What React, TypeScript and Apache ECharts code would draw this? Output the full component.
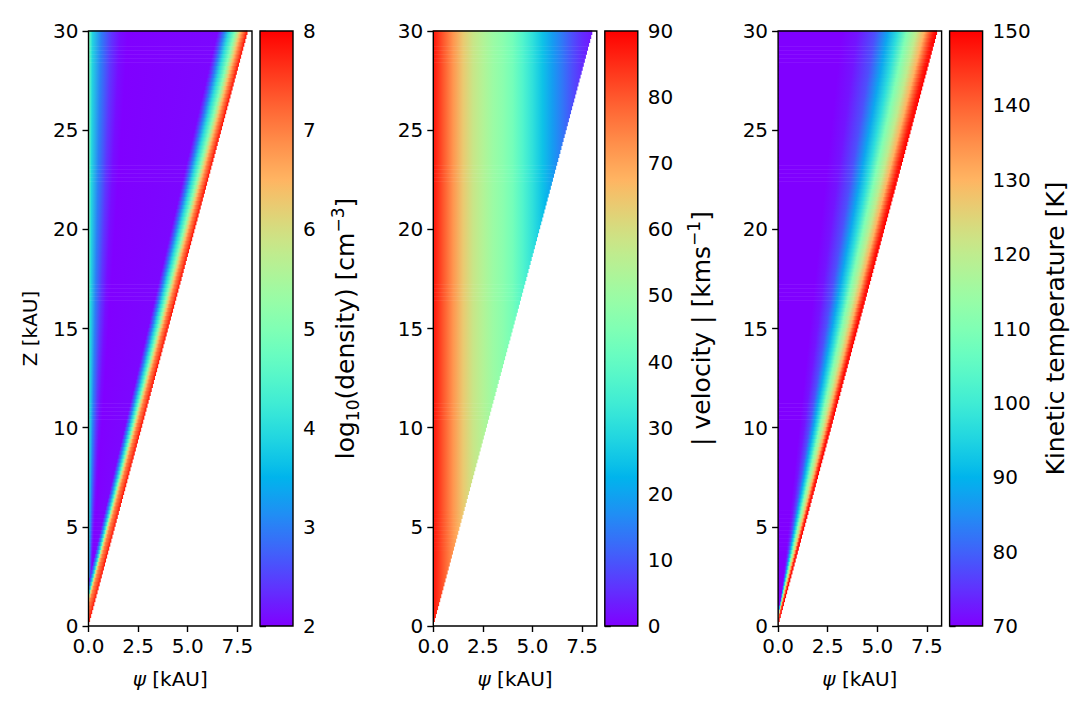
import React, { useEffect, useRef } from "react";
import * as echarts from "echarts";

const FONT = "DejaVu Sans, sans-serif";

// Axis ranges (kAU)
const zRange = [0, 30];
const psiRange = [0, 8.24];
const psiTicks = [0, 2.5, 5, 7.5];
// Outer wall of the cavity: psi reached at Z = 30 kAU, apex at the origin
const wallPsiAtTop = 8.04;

// log10(density) [cm^-3]: contour levels, with their psi (kAU) at Z = 0 and Z = 30
const densityRange = [2, 8];
const densityLevels = [5.2, 4.5, 3.9, 3.0, 2.4, 2.1, 2.0, 2.05, 2.4, 3.0, 4.0, 5.0, 6.0, 6.5, 7.0, 7.4, 7.8];
const densityPsiZ0 = [0, 0, 0, 0, 0, 0, 0, -0.52, -0.5, -0.44, -0.38, -0.36, -0.34, -0.3, -0.25, -0.12, -0.02];
const densityPsiZ30 = [0, 0.08, 0.2, 0.64, 1.16, 1.6, 2.0, 6.52, 6.68, 6.86, 7.1, 7.4, 7.58, 7.68, 7.79, 7.9, 8.0];

// |velocity| [km s^-1]: depends on psi only
const velocityRange = [0, 90];
const velocityLevels = [88, 80, 72, 64, 58, 54, 50, 47, 43, 37, 31, 25, 19, 14, 9, 5, 2];
const velocityPsi = [0, 0.5, 1.0, 1.5, 2.0, 2.5, 3.0, 3.5, 4.0, 4.5, 5.0, 5.5, 6.0, 6.5, 7.0, 7.5, 8.1];

// Kinetic temperature [K]: contour levels, with their psi (kAU) at Z = 0 and Z = 30
const temperatureRange = [70, 150];
const temperatureLevels = [70, 72, 78, 88, 97, 110, 120, 130, 140, 147, 150];
const temperaturePsiZ0 = [0, -0.04, -0.08, -0.1, -0.1, -0.1, -0.1, -0.09, -0.07, -0.05, -0.02];
const temperaturePsiZ30 = [3.2, 4.0, 4.9, 5.55, 6.03, 6.5, 6.98, 7.38, 7.62, 7.84, 8.02];

// Layout (px)
const PANEL_LEFT = [88.5, 433.3, 778.1];
const PANEL_WIDTH = 163.5;
const CB_OFFSET = 171.5;
const CB_WIDTH = 33;
const TOP = 31;
const HEIGHT = 595;
const ROWS = 150;
const LINE_W = 1.4;
const TICK_FONT = 20;
const LABEL_FONT = 25;

const clamp01 = (t: number) => Math.max(0, Math.min(1, t));

// matplotlib "rainbow" colormap
function rainbow(t: number): string {
  const x = clamp01(t);
  const r = clamp01(Math.abs(2 * x - 0.5));
  const g = clamp01(Math.sin(Math.PI * x));
  const b = clamp01(Math.cos((Math.PI * x) / 2));
  return `rgb(${Math.round(r * 255)},${Math.round(g * 255)},${Math.round(b * 255)})`;
}

type Pt = { psi: number; v: number };

function valueAt(pts: Pt[], p: number): number {
  let j = -1;
  for (let k = 0; k < pts.length; k++) if (pts[k].psi <= p) j = k;
  if (j < 0) return pts[0].v;
  if (j === pts.length - 1) return pts[j].v;
  const a = pts[j];
  const b = pts[j + 1];
  return a.v + ((b.v - a.v) * (p - a.psi)) / (b.psi - a.psi);
}

function fieldRenderer(levels: number[], psiZ0: number[], psiZ30: number[], range: number[]) {
  const norm = (v: number) => (v - range[0]) / (range[1] - range[0]);
  return (_params: any, api: any) => {
    const children: any[] = [];
    const dz = (zRange[1] - zRange[0]) / ROWS;
    for (let i = ROWS - 1; i >= 0; i--) {
      const z0 = zRange[0] + i * dz;
      const z1 = z0 + dz;
      const zc = z0 + dz / 2;
      const s = zc / zRange[1];
      const edge = wallPsiAtTop * s;
      const pts: Pt[] = levels.map((v, j) => ({ psi: psiZ0[j] + (psiZ30[j] - psiZ0[j]) * s, v }));
      for (let j = pts.length - 2; j >= 0; j--) {
        if (pts[j].psi > pts[j + 1].psi) pts[j].psi = pts[j + 1].psi;
      }
      const colorStops: any[] = [{ offset: 0, color: rainbow(norm(valueAt(pts, 0))) }];
      for (const p of pts) {
        if (p.psi > 0 && p.psi < edge) colorStops.push({ offset: p.psi / edge, color: rainbow(norm(p.v)) });
      }
      colorStops.push({ offset: 1, color: rainbow(norm(valueAt(pts, edge))) });
      const a = api.coord([0, z1]);
      const b = api.coord([edge, z0]);
      children.push({
        type: "rect",
        shape: { x: a[0], y: a[1] - 0.6, width: b[0] - a[0], height: b[1] - a[1] + 0.6 },
        style: { fill: { type: "linear", x: 0, y: 0, x2: 1, y2: 0, colorStops } },
      });
    }
    const tl = api.coord([psiRange[0], zRange[1]]);
    const br = api.coord([psiRange[1], zRange[0]]);
    children.push({
      type: "rect",
      shape: { x: tl[0], y: tl[1], width: br[0] - tl[0], height: br[1] - tl[1] },
      style: { fill: "none", stroke: "#000", lineWidth: LINE_W },
    });
    return { type: "group", children };
  };
}

function colorbarRenderer(range: number[]) {
  return (_params: any, api: any) => {
    const tl = api.coord([0, range[1]]);
    const br = api.coord([1, range[0]]);
    const stops: any[] = [];
    for (let k = 0; k <= 48; k++) stops.push({ offset: k / 48, color: rainbow(k / 48) });
    const shape = { x: tl[0], y: tl[1], width: br[0] - tl[0], height: br[1] - tl[1] };
    return {
      type: "group",
      children: [
        { type: "rect", shape, style: { fill: { type: "linear", x: 0, y: 1, x2: 0, y2: 0, colorStops: stops } } },
        { type: "rect", shape, style: { fill: "none", stroke: "#000", lineWidth: LINE_W } },
      ],
    };
  };
}

const tickStyle = { length: 6, lineStyle: { color: "#000", width: LINE_W } };
const labelBase = { color: "#000", fontFamily: FONT, fontSize: TICK_FONT };
const supSub = {
  t: { fontFamily: FONT, fontSize: LABEL_FONT, color: "#000", lineHeight: 32 },
  sub: { fontFamily: FONT, fontSize: 17, color: "#000", lineHeight: 17, verticalAlign: "bottom" },
  sup: { fontFamily: FONT, fontSize: 17, color: "#000", lineHeight: 17, verticalAlign: "top" },
};

const colorbars = [
  { range: densityRange, interval: 1, name: "{t|log}{sub|10}{t|(density) [cm}{sup|−3}{t|]}", gap: 36 },
  { range: velocityRange, interval: 10, name: "{t|| velocity | [kms}{sup|−1}{t|]}", gap: 48 },
  { range: temperatureRange, interval: 10, name: "{t|Kinetic temperature [K]}", gap: 57 },
];

const fieldSeries = [
  fieldRenderer(densityLevels, densityPsiZ0, densityPsiZ30, densityRange),
  fieldRenderer(velocityLevels, velocityPsi, velocityPsi, velocityRange),
  fieldRenderer(temperatureLevels, temperaturePsiZ0, temperaturePsiZ30, temperatureRange),
];

function buildOption() {
  const grid: any[] = [];
  const xAxis: any[] = [];
  const yAxis: any[] = [];
  const series: any[] = [];
  for (let k = 0; k < 3; k++) {
    grid.push({ left: PANEL_LEFT[k], top: TOP, width: PANEL_WIDTH, height: HEIGHT, show: false });
    grid.push({ left: PANEL_LEFT[k] + CB_OFFSET, top: TOP, width: CB_WIDTH, height: HEIGHT, show: false });
    xAxis.push({
      gridIndex: 2 * k,
      type: "value",
      min: psiRange[0],
      max: psiRange[1],
      axisLine: { show: false },
      axisTick: { ...tickStyle, customValues: psiTicks },
      axisLabel: { ...labelBase, margin: 10, customValues: psiTicks, formatter: (v: number) => v.toFixed(1) },
      splitLine: { show: false },
      name: "{i|ψ} [kAU]",
      nameLocation: "middle",
      nameGap: 43,
      nameTextStyle: {
        ...labelBase,
        rich: { i: { ...labelBase, fontStyle: "italic" } },
      },
    });
    xAxis.push({ gridIndex: 2 * k + 1, type: "value", min: 0, max: 1, show: false });
    yAxis.push({
      gridIndex: 2 * k,
      type: "value",
      min: zRange[0],
      max: zRange[1],
      interval: 5,
      axisLine: { show: false },
      axisTick: tickStyle,
      axisLabel: { ...labelBase, margin: 10 },
      splitLine: { show: false },
      ...(k === 0
        ? { name: "Z [kAU]", nameLocation: "middle", nameGap: 49, nameRotate: 90, nameTextStyle: labelBase }
        : {}),
    });
    const cb = colorbars[k];
    yAxis.push({
      gridIndex: 2 * k + 1,
      type: "value",
      position: "right",
      min: cb.range[0],
      max: cb.range[1],
      interval: cb.interval,
      axisLine: { show: false },
      axisTick: tickStyle,
      axisLabel: { ...labelBase, margin: 10 },
      splitLine: { show: false },
      name: cb.name,
      nameLocation: "middle",
      nameRotate: 90,
      nameGap: cb.gap,
      nameTextStyle: { ...labelBase, fontSize: LABEL_FONT, lineHeight: 32, rich: supSub },
    });
    series.push({
      type: "custom",
      coordinateSystem: "cartesian2d",
      xAxisIndex: 2 * k,
      yAxisIndex: 2 * k,
      silent: true,
      renderItem: fieldSeries[k],
      data: [[0, 0]],
    });
    series.push({
      type: "custom",
      coordinateSystem: "cartesian2d",
      xAxisIndex: 2 * k + 1,
      yAxisIndex: 2 * k + 1,
      silent: true,
      renderItem: colorbarRenderer(cb.range),
      data: [[0, 0]],
    });
  }
  return { animation: false, backgroundColor: "#fff", grid, xAxis, yAxis, series };
}

export default function App() {
  const ref = useRef<HTMLDivElement>(null);
  useEffect(() => {
    if (!ref.current) return;
    const chart = echarts.init(ref.current, null, { renderer: "svg" });
    chart.setOption(buildOption() as any);
    return () => chart.dispose();
  }, []);
  return (
    <div
      ref={ref}
      style={{ position: "absolute", left: 0, top: 0, width: 1091, height: 720, background: "#fff" }}
    />
  );
}
